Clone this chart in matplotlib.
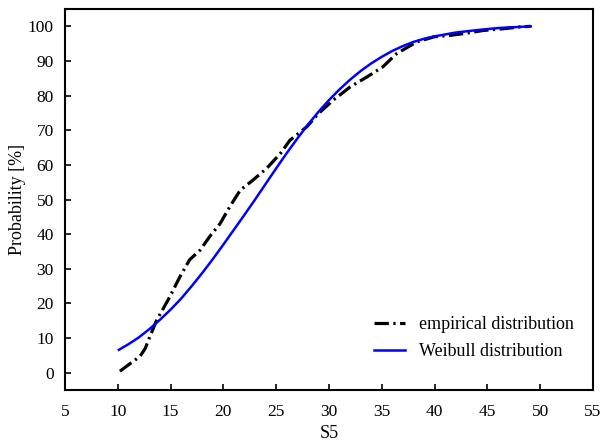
import numpy as np
import matplotlib
matplotlib.use("Agg")
import matplotlib.pyplot as plt

plt.rcParams['font.family'] = ['Liberation Serif', 'DejaVu Serif']

# empirische Verteilung
emp_x = [10.2, 10.8, 12.1, 12.6, 13.05, 13.7, 14.3, 14.94, 15.9, 16.8, 17.8, 18.7,
         19.7, 20.6, 21.6, 22.8, 24.1, 25.4, 26.3, 27.9, 29.0, 30.4, 31.0, 32.0,
         33.6, 35.1, 36.4, 38.3, 40.0, 41.5, 43.0, 44.6, 46.5, 48.0, 49.1]
emp_y = [0.4, 1.8, 4.7, 7.0, 10.5, 15.3, 18.5, 22.0, 27.8, 32.6, 35.4, 39.3,
         43.1, 47.9, 52.7, 55.6, 59.0, 63.3, 67.1, 71.0, 74.8, 78.7, 80.1, 82.5,
         85.4, 88.3, 92.1, 95.5, 97.0, 97.4, 98.0, 98.8, 99.3, 99.8, 100.0]

# Weibull Verteilung
wb_x = [10.1, 11, 12, 13, 14, 15, 16, 17, 18, 19, 20, 21, 22, 23, 24, 25, 26, 27,
        28, 29, 30, 31, 32, 33, 34, 35, 36, 37, 38, 39, 40, 42, 44, 46, 49.1]
wb_y = [6.6, 8.2, 10.2, 12.6, 15.3, 18.2, 21.4, 25.0, 28.8, 32.8, 37.0, 41.3,
        45.6, 50.0, 54.5, 59.0, 63.4, 67.6, 71.6, 75.3, 78.7, 81.8, 84.6, 87.1,
        89.3, 91.2, 92.9, 94.3, 95.5, 96.4, 97.1, 98.2, 98.9, 99.5, 100.0]

fig = plt.figure(figsize=(6.02, 4.48), dpi=100)
ax = fig.add_axes([65/602, 1-390/448, (593-65)/602, (390-9)/448])

ax.plot(emp_x, emp_y, color='black', lw=2.3, linestyle=(0, (4.5, 1.4, 0.7, 1.4)),
        label='empirical distribution')
ax.plot(wb_x, wb_y, color='#0000ff', lw=1.8, label='Weibull distribution')

ax.set_xlim(5, 55)
ax.set_ylim(-5, 105)
ax.set_xticks(np.arange(5, 56, 5))
ax.set_yticks(np.arange(0, 101, 10))
ax.tick_params(direction='in', length=4, width=1.2, labelsize=12.5, top=False, right=False)
ax.tick_params(axis='x', pad=10)
ax.tick_params(axis='y', pad=8)
for s in ax.spines.values():
    s.set_linewidth(1.5)
ax.set_xlabel('S5', fontsize=13, labelpad=4)
ax.set_ylabel('Probability [%]', fontsize=13, labelpad=1)

ax.legend(loc='lower right', bbox_to_anchor=(0.995, 0.035), frameon=False, fontsize=13,
          handlelength=1.7, handletextpad=0.8, labelspacing=0.55)

plt.savefig('out.png')
